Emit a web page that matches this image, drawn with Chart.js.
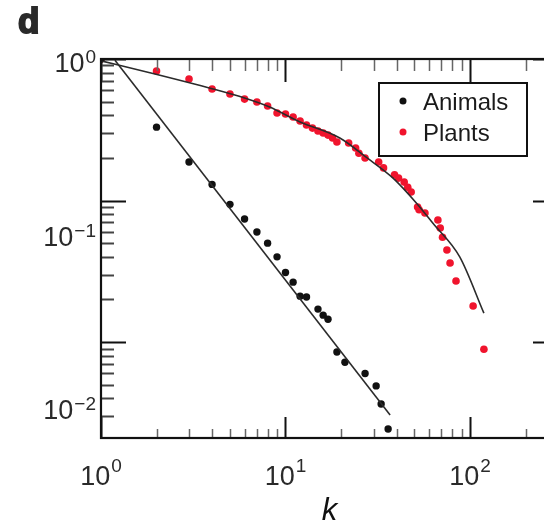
<!DOCTYPE html>
<html>
<head>
<meta charset="utf-8">
<script src="https://cdn.jsdelivr.net/npm/chart.js@4.4.1/dist/chart.umd.min.js"></script>
<style>
    html, body { margin: 0; padding: 0; background: #fff; overflow: hidden; }
    canvas { display: block; }
</style>
</head>
<body>
<canvas id="chart" width="570" height="525"></canvas>
<script>
// Cumulative degree distributions.
const animals_k = [1, 2, 3, 4, 5, 6, 7, 8, 9, 10, 11, 12, 13, 15, 16, 17, 19, 21, 27, 31, 33, 36];
const animals_p = [1, 0.33, 0.187, 0.13, 0.094, 0.074, 0.060, 0.050, 0.040, 0.031, 0.0265, 0.0211, 0.0208,
    0.0171, 0.0155, 0.0145, 0.0085, 0.0072, 0.0060, 0.0049, 0.00365, 0.00243];

const plants_k = [1, 2, 3, 4, 5, 6, 7, 8, 9, 10, 11, 12, 13, 14, 15, 16, 17, 18, 19, 22, 24, 25, 27,
    32, 34, 39, 41, 44, 46, 48, 52, 53, 57, 67, 69, 71, 75, 78, 84, 104, 119];
const plants_p = [1, 0.823, 0.722, 0.614, 0.566, 0.521, 0.497, 0.466, 0.415, 0.409, 0.389, 0.365, 0.342,
    0.325, 0.310, 0.300, 0.290, 0.277, 0.259, 0.255, 0.235, 0.216, 0.200, 0.187, 0.170, 0.152, 0.144,
    0.135, 0.124, 0.115, 0.090, 0.086, 0.0816, 0.0728, 0.064, 0.055, 0.0447, 0.0362, 0.027, 0.018, 0.0089];

// Fitted curves.
const animals_fit_k = [1.19, 36.9];
const animals_fit_p = [0.98, 0.00305];
const plants_fit_k = [1, 1.84, 4.05, 6.0, 8.2, 12, 19.7, 27.7, 38.3, 51.6, 63, 88, 119];
const plants_fit_p = [0.97, 0.80, 0.614, 0.53, 0.458, 0.359, 0.2765, 0.20, 0.144, 0.095, 0.069, 0.040, 0.016];

// Axis ranges.
const x_range = [1, 300];
const y_range = [0.0021, 1];

const font_name = '"Liberation Sans", Arial, Helvetica, sans-serif';
const red = '#f0142d';

function to_points(xs, ys) {
    return xs.map((x, i) => ({ x: x, y: ys[i] }));
}

// "10" with a raised exponent, y is the baseline of "10".
function draw_power(ctx, exp, x, y, align, raise) {
    ctx.font = '27px ' + font_name;
    const wb = ctx.measureText('10').width;
    ctx.font = '19px ' + font_name;
    const we = ctx.measureText(exp).width;
    const left = align == 'right' ? x - wb - we - 1 : x - (wb + we + 1) / 2;

    ctx.textAlign = 'left';
    ctx.textBaseline = 'alphabetic';
    ctx.font = '27px ' + font_name;
    ctx.fillText('10', left, y);
    ctx.font = '19px ' + font_name;
    ctx.fillText(exp, left + wb + 1, y - raise);
}

// Log ticks with integer significand, flagged major for powers of ten.
function log_ticks(scale) {
    const out = [];
    scale.ticks.forEach((t) => {
        const v = t.value;
        const e = Math.floor(Math.log10(v) + 1e-9);
        const sig = v / Math.pow(10, e);
        if (Math.abs(sig - Math.round(sig)) > 1e-6) return;
        out.push({ value: v, major: Math.round(sig) == 1, exp: e });
    });
    return out;
}

const frame_plugin = {
    id: 'frame',
    afterDraw(chart) {
        const ctx = chart.ctx;
        const area = chart.chartArea;
        const xs = chart.scales.x;
        const ys = chart.scales.y;

        ctx.save();

        // Inward tick marks on all four sides.
        ctx.lineCap = 'butt';
        log_ticks(xs).forEach((t) => {
            const px = Math.round(xs.getPixelForValue(t.value)) + 0.5;
            ctx.strokeStyle = t.major ? '#111' : '#666';
            ctx.lineWidth = t.major ? 2 : 1.5;
            ctx.beginPath();
            ctx.moveTo(px, area.bottom);
            ctx.lineTo(px, area.bottom - (t.major ? 21 : 9));
            ctx.moveTo(px, area.top);
            ctx.lineTo(px, area.top + (t.major ? 23 : 12));
            ctx.stroke();
        });
        log_ticks(ys).forEach((t) => {
            const py = Math.round(ys.getPixelForValue(t.value)) + 0.5;
            ctx.strokeStyle = t.major ? '#111' : '#444';
            ctx.lineWidth = t.major ? 2 : 1.8;
            ctx.beginPath();
            ctx.moveTo(area.left, py);
            ctx.lineTo(area.left + (t.major ? 25 : 13), py);
            ctx.moveTo(area.right, py);
            ctx.lineTo(area.right - (t.major ? 25 : 13), py);
            ctx.stroke();
        });

        // Frame.
        ctx.strokeStyle = '#111';
        ctx.lineWidth = 2.2;
        ctx.strokeRect(area.left, area.top, area.right - area.left, area.bottom - area.top);

        // Tick labels.
        ctx.fillStyle = '#2a2a2a';
        log_ticks(xs).forEach((t) => {
            if (!t.major) return;
            const exp = String(t.exp).replace('-', '\u2212');
            draw_power(ctx, exp, xs.getPixelForValue(t.value), 485, 'center', 13);
        });
        log_ticks(ys).forEach((t) => {
            if (!t.major) return;
            const exp = String(t.exp).replace('-', '\u2212');
            // The labels in the figure sit a little lower than their ticks.
            const py = ys.getPixelForValue(t.value) + 32 * (-t.exp) + 13;
            draw_power(ctx, exp, 96, py, 'right', 9);
        });

        // Axis title.
        ctx.font = 'italic 31px ' + font_name;
        ctx.textAlign = 'center';
        ctx.fillStyle = '#111';
        ctx.fillText('k', (area.left + area.right) / 2, 520);

        // Panel letter.
        ctx.font = 'bold 35px ' + font_name;
        ctx.textAlign = 'left';
        ctx.fillStyle = '#2a2a2a';
        ctx.strokeStyle = '#2a2a2a';
        ctx.lineWidth = 2;
        ctx.fillText('d', 18, 33);
        ctx.strokeText('d', 18, 33);

        // Legend box inside the plot.
        ctx.fillStyle = '#fff';
        ctx.fillRect(379, 83, 148, 73);
        ctx.strokeStyle = '#111';
        ctx.lineWidth = 2;
        ctx.strokeRect(379, 83, 148, 73);
        const entries = chart.data.datasets.filter((d) => d.type == 'scatter');
        entries.forEach((d, i) => {
            const cy = 101 + i * 31;
            ctx.fillStyle = d.backgroundColor;
            ctx.beginPath();
            ctx.arc(403, cy, 3.5, 0, Math.PI * 2);
            ctx.fill();
            ctx.fillStyle = '#1a1a1a';
            ctx.font = '24px ' + font_name;
            ctx.textAlign = 'left';
            ctx.fillText(d.label, 423, cy + 9);
        });

        ctx.restore();
    },
};

const ctx = document.getElementById('chart');

window.myChart = new Chart(ctx, {
    data: {
        datasets: [
            {
                type: 'line',
                label: 'Animals fit',
                data: to_points(animals_fit_k, animals_fit_p),
                borderColor: '#2b2b2b',
                borderWidth: 1.6,
                pointRadius: 0,
                order: 0,
            },
            {
                type: 'line',
                label: 'Plants fit',
                data: to_points(plants_fit_k, plants_fit_p),
                borderColor: '#2b2b2b',
                borderWidth: 1.6,
                pointRadius: 0,
                cubicInterpolationMode: 'monotone',
                order: 0,
            },
            {
                type: 'scatter',
                label: 'Animals',
                data: to_points(animals_k, animals_p),
                backgroundColor: '#111',
                borderWidth: 0,
                pointRadius: 3.7,
                order: 1,
            },
            {
                type: 'scatter',
                label: 'Plants',
                data: to_points(plants_k, plants_p),
                backgroundColor: red,
                borderWidth: 0,
                pointRadius: 3.8,
                order: 1,
            },
        ],
    },
    options: {
        responsive: false,
        animation: false,
        layout: { padding: { top: 59, right: 12, left: 0, bottom: 0 } },
        plugins: {
            legend: { display: false },
            tooltip: { enabled: false },
        },
        scales: {
            x: {
                type: 'logarithmic',
                min: x_range[0],
                max: x_range[1],
                grid: { display: false },
                border: { display: false },
                ticks: { display: false },
                afterFit: (s) => { s.height = 87; },
            },
            y: {
                type: 'logarithmic',
                min: y_range[0],
                max: y_range[1],
                grid: { display: false },
                border: { display: false },
                ticks: { display: false },
                afterFit: (s) => { s.width = 101; },
            },
        },
    },
    plugins: [frame_plugin],
});
</script>
</body>
</html>
